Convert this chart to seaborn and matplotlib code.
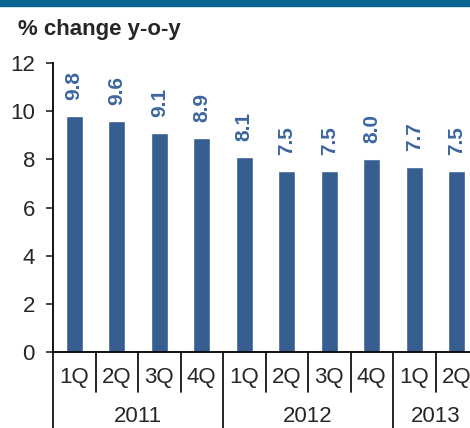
"""
Quarterly growth bar chart, % change y-o-y
"""
import matplotlib.pyplot as plt
import matplotlib.transforms as mtransforms
import seaborn as sns
import pandas as pd

# data
years = ['2011', '2011', '2011', '2011', '2012', '2012', '2012', '2012', '2013', '2013']
quarters = ['1Q', '2Q', '3Q', '4Q', '1Q', '2Q', '3Q', '4Q', '1Q', '2Q']
growth = [9.8, 9.6, 9.1, 8.9, 8.1, 7.5, 7.5, 8.0, 7.7, 7.5]
year_labels = ['2011', '2012', '2013']

bar_color = '#365E90'
label_color = '#3D66A0'

sns.set_style("white")
plt.rcParams['font.family'] = ['Liberation Sans', 'DejaVu Sans']

df = pd.DataFrame({'period': [f'{y} {q}' for y, q in zip(years, quarters)],
                   'growth': growth})

fig = plt.figure(figsize=(4.7, 4.28), dpi=100)
ax = fig.add_axes([53 / 470, 76 / 428, 425 / 470, 289 / 428])

sns.barplot(data=df, x='period', y='growth', color=bar_color, width=0.4,
            saturation=1, ax=ax)
for c in ax.containers:
    ax.bar_label(c, labels=[f'{v:.1f}' for v in growth], rotation=90,
                 padding=11.5, color=label_color, fontsize=15, fontweight='bold')

ax.set_xlim(-0.5, len(growth) - 0.5)
ax.set_ylim(0, 12)
ax.set_yticks(range(0, 13, 2))
ax.tick_params(axis='y', labelsize=16, length=5, width=1.2, pad=8, direction='out', left=True)
ax.set_xticks([])
ax.set_xlabel('')
ax.set_ylabel('')
for s in ['top', 'right']:
    ax.spines[s].set_visible(False)
for s in ['left', 'bottom']:
    ax.spines[s].set_color('black')
    ax.spines[s].set_linewidth(1.3)

# two-level category axis
trans = mtransforms.blended_transform_factory(ax.transData, ax.transAxes)
px = 1 / 289  # one pixel in axes height
for i, q in enumerate(quarters):
    ax.text(i, -25 * px, q, transform=trans, ha='center', va='center',
            fontsize=16, clip_on=False)
for k in range(len(quarters) + 1):
    x = k - 0.5
    bottom = -76 * px if k % 4 == 0 else -40 * px
    ax.plot([x, x], [0, bottom], transform=trans, color='black', lw=1.2,
            clip_on=False)
for j, y in enumerate(year_labels):
    idx = [i for i, yy in enumerate(years) if yy == y]
    xc = (idx[0] + idx[-1]) / 2
    ax.text(xc, -65 * px, y, transform=trans, ha='center', va='center',
            fontsize=16, clip_on=False)

fig.text(18 / 470, 1 - 30 / 428, '% change y-o-y', fontsize=16, fontweight='bold',
         ha='left', va='center')

# banner strip at the very top
fig.patches.append(plt.Rectangle((0, 1 - 6 / 428), 1, 6 / 428, transform=fig.transFigure,
                                 color='#0B6591', zorder=0))

plt.savefig('out.png', dpi=100)
